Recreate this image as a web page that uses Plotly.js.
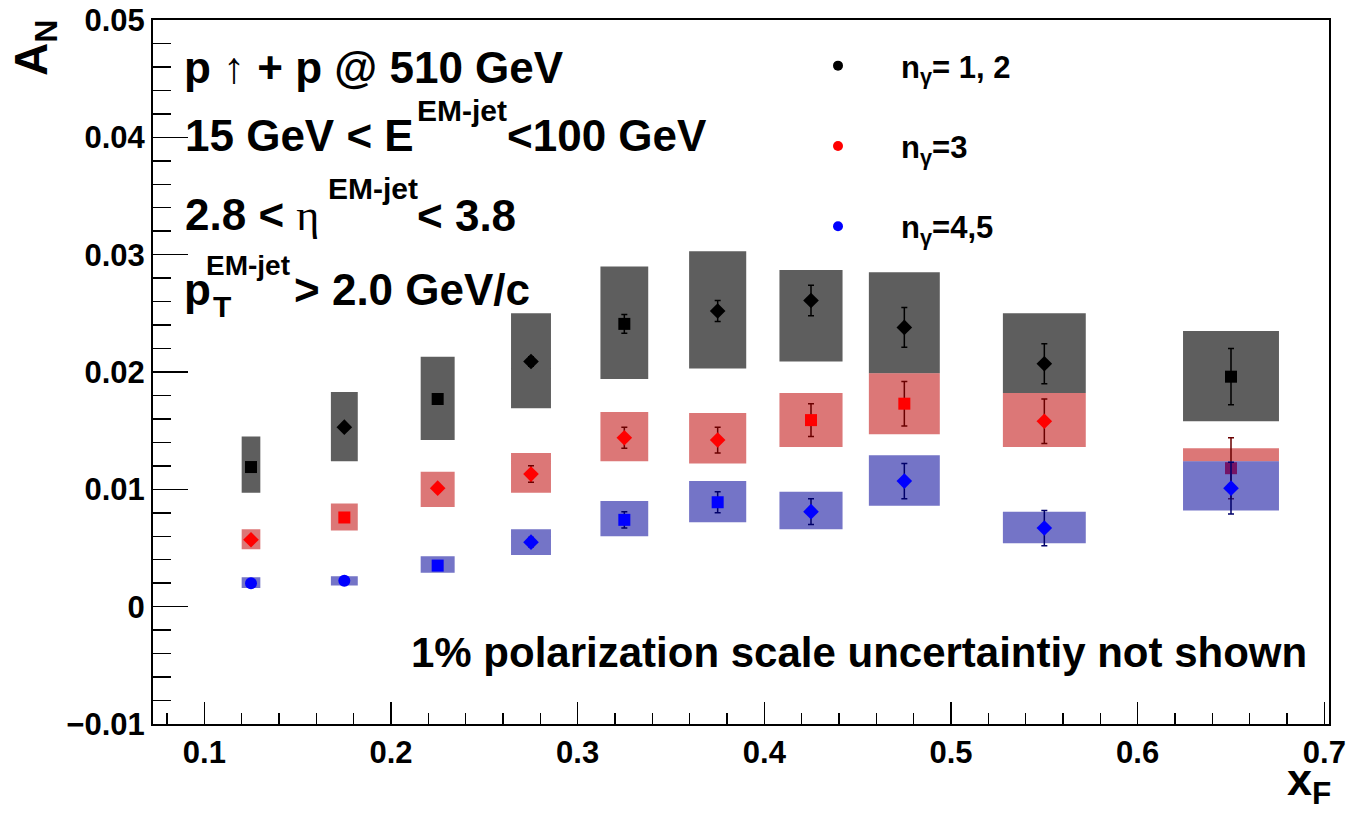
<!DOCTYPE html>
<html>
<head>
<meta charset="utf-8">
<script src="https://cdn.plot.ly/plotly-3.0.1.min.js"></script>
<style>html,body{margin:0;padding:0;background:#fff;}#plot{width:1349px;height:813px;}</style>
</head>
<body>
<div id="plot"></div>
<script>
// ---------------- data ----------------
var xF = [0.125, 0.175, 0.225, 0.275, 0.325, 0.375, 0.425, 0.475, 0.55, 0.65];
var xHalfWidth = [0.005, 0.0072, 0.0091, 0.0107, 0.0128, 0.0153, 0.0169, 0.019, 0.0222, 0.0257];

var seriesNames = ["n<sub>γ</sub>= 1, 2", "n<sub>γ</sub>=3", "n<sub>γ</sub>=4,5"];

var anN12   = [0.0119, 0.0153, 0.0177, 0.0209, 0.0241, 0.0252, 0.0261, 0.0238, 0.0207, 0.0196];
var statN12 = [0.0003, 0.0003, 0.0003, 0.0004, 0.0008, 0.0009, 0.0013, 0.0017, 0.0017, 0.0024];
var sysLoN12 = [0.0097, 0.0124, 0.0142, 0.0169, 0.0194, 0.0203, 0.0209, 0.0199, 0.0182, 0.0158];
var sysHiN12 = [0.0145, 0.0183, 0.0213, 0.0250, 0.0290, 0.0303, 0.0287, 0.0285, 0.0250, 0.0235];

var anN3   = [0.0057, 0.0076, 0.0101, 0.0113, 0.0144, 0.0142, 0.0159, 0.0173, 0.0158, 0.0118];
var statN3 = [0.0003, 0.0003, 0.0003, 0.0007, 0.0009, 0.0011, 0.0014, 0.0019, 0.0019, 0.0026];
var sysLoN3 = [0.0049, 0.0065, 0.0085, 0.0097, 0.0124, 0.0122, 0.0136, 0.0147, 0.0136, 0.0124];
var sysHiN3 = [0.0066, 0.0088, 0.0115, 0.0131, 0.0166, 0.0165, 0.0182, 0.0199, 0.0182, 0.0135];

var anN45   = [0.0020, 0.0022, 0.0035, 0.0055, 0.0074, 0.0089, 0.0081, 0.0107, 0.0067, 0.0101];
var statN45 = [0.0002, 0.0002, 0.0003, 0.0004, 0.0007, 0.0009, 0.0011, 0.0015, 0.0015, 0.0022];
var sysLoN45 = [0.0016, 0.0018, 0.0029, 0.0044, 0.0060, 0.0072, 0.0066, 0.0086, 0.0054, 0.0082];
var sysHiN45 = [0.0025, 0.0026, 0.0043, 0.0066, 0.0090, 0.0107, 0.0098, 0.0129, 0.0081, 0.0124];

// ---------------- styles ----------------
var FONT = "Liberation Sans, Arial, Helvetica, sans-serif";
var styles = [
  {marker: "#000000", err: "#000000", fill: "rgba(0,0,0,0.63)",
   symbols: ["square","diamond","square","diamond","square","diamond","diamond","diamond","diamond","square"]},
  {marker: "#ff0000", err: "#6a0000", fill: "rgba(195,20,20,0.58)",
   symbols: ["diamond","square","diamond","diamond","diamond","diamond","square","square","diamond","square"]},
  {marker: "#0000ff", err: "#00006a", fill: "rgba(30,30,165,0.62)",
   symbols: ["circle","circle","square","diamond","square","square","diamond","diamond","diamond","diamond"]}
];
var series = [
  {an: anN12, stat: statN12, lo: sysLoN12, hi: sysHiN12},
  {an: anN3,  stat: statN3,  lo: sysLoN3,  hi: sysHiN3},
  {an: anN45, stat: statN45, lo: sysLoN45, hi: sysHiN45}
];

// systematic boxes as filled polygons (one closed segment per point)
function boxTrace(s, st) {
  var xs = [], ys = [];
  for (var i = 0; i < xF.length; i++) {
    var a = xF[i] - xHalfWidth[i], b = xF[i] + xHalfWidth[i];
    xs.push(a, b, b, a, a, null);
    ys.push(s.lo[i], s.lo[i], s.hi[i], s.hi[i], s.lo[i], null);
  }
  return {type: "scatter", mode: "lines", x: xs, y: ys, fill: "toself",
    fillcolor: st.fill, line: {width: 0, color: "rgba(0,0,0,0)"},
    connectgaps: false, hoverinfo: "skip", showlegend: false};
}
function pointTrace(s, st) {
  return {type: "scatter", mode: "markers", x: xF, y: s.an,
    marker: {color: st.marker, size: 12, symbol: st.symbols, line: {width: 0}},
    error_y: {type: "data", array: s.stat, visible: true, color: st.err, thickness: 1.5, width: 3},
    showlegend: false};
}
var PAD = "\u00A0\u00A0\u00A0\u00A0\u00A0";
function legendTrace(name, st, k) {
  return {type: "scatter", mode: "markers", x: [null], y: [null], name: PAD + name,
    legendgroup: "g" + k, marker: {color: st.marker, size: 10, symbol: "circle"}, showlegend: true};
}

var traces = [];
for (var k = 0; k < 3; k++) {
  traces.push(boxTrace(series[k], styles[k]));
  traces.push(pointTrace(series[k], styles[k]));
}
for (var k2 = 0; k2 < 3; k2++) traces.push(legendTrace(seriesNames[k2], styles[k2], k2));

// ---------------- layout ----------------
var L = 153, R = 1329, T = 20, B = 724;
function px(x) { return (x - L) / (R - L); }
function py(y) { return (B - y) / (B - T); }
function ann(text, xLeft, baseline, size, extra) {
  var a = {text: text, xref: "paper", yref: "paper", x: px(xLeft - 1), y: py(baseline + 0.212 * size + 1),
    xanchor: "left", yanchor: "bottom", showarrow: false,
    font: {family: FONT, size: size, color: "#000", weight: "bold"}};
  if (extra) for (var key in extra) a[key] = extra[key];
  return a;
}
var SERIF = '<span style="font-family:\'Liberation Serif\',serif;font-weight:normal">';
var MAIN = 44, SUP = 30;
var annotations = [
  ann('p <span style="font-weight:normal">↑</span> + p @ 510 GeV', 183, 84, MAIN),
  ann('15 GeV &lt; E', 184, 152, MAIN),
  ann('EM-jet', 416, 122, SUP),
  ann('&lt;100 GeV', 506, 152, MAIN),
  ann('2.8 &lt; ' + SERIF + 'η</span>', 184, 232, MAIN),
  ann('EM-jet', 327, 200, SUP),
  ann('&lt; 3.8', 416, 232, MAIN),
  ann('p', 183, 306, MAIN),
  ann('T', 212, 318, SUP),
  ann('EM-jet', 205, 276, 28),
  ann('&gt; 2.0 GeV/c', 293, 306, MAIN),
  ann('1% polarization scale uncertaintiy not shown', 410, 668, 42),
  {text: "A<sub>N</sub>", xref: "paper", yref: "paper", x: px(35), y: py(18), xanchor: "center", yanchor: "top",
   textangle: -90, showarrow: false, font: {family: FONT, size: 46, color: "#000", weight: "bold"}},
  {text: "x<sub>F</sub>", xref: "paper", yref: "paper", x: px(1333), y: py(813), xanchor: "right", yanchor: "bottom",
   showarrow: false, font: {family: FONT, size: 45, color: "#000", weight: "bold"}}
];

var layout = {
  width: 1349, height: 813,
  margin: {l: L, r: 1349 - R, t: T, b: 813 - B, pad: 0},
  paper_bgcolor: "#fff", plot_bgcolor: "#fff",
  showlegend: true,
  legend: {x: px(818), y: py(39), xanchor: "left", yanchor: "top", bgcolor: "rgba(0,0,0,0)",
    font: {family: FONT, size: 31, color: "#000", weight: "bold"}, tracegroupgap: 37, traceorder: "grouped",
    itemwidth: 30},
  xaxis: {range: [0.0725, 0.7025], tick0: 0.1, dtick: 0.1, ticks: "inside", ticklen: 22, tickwidth: 1.5,
    tickcolor: "#000", showline: true, linewidth: 2, linecolor: "#000", mirror: true, showgrid: false,
    zeroline: false, tickfont: {family: FONT, size: 31, color: "#000", weight: "bold"},
    minor: {dtick: 0.02, tick0: 0.1, ticks: "inside", ticklen: 11, tickwidth: 1.5, tickcolor: "#000", showgrid: false}},
  yaxis: {range: [-0.01, 0.05], tick0: 0, dtick: 0.01, ticks: "inside", ticklen: 35, tickwidth: 1.5,
    tickcolor: "#000", showline: true, linewidth: 2, linecolor: "#000", mirror: true, showgrid: false,
    zeroline: false, tickfont: {family: FONT, size: 31, color: "#000", weight: "bold"},
    minor: {dtick: 0.002, tick0: 0, ticks: "inside", ticklen: 18, tickwidth: 1.5, tickcolor: "#000", showgrid: false}},
  annotations: annotations
};

Plotly.newPlot("plot", traces, layout, {displayModeBar: false, staticPlot: true});
</script>
</body>
</html>
